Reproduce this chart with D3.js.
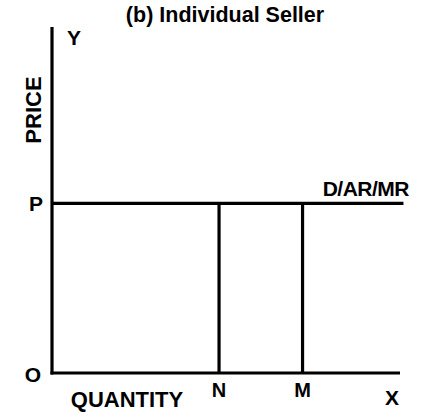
<!DOCTYPE html>
<html>
<head>
<meta charset="utf-8">
<script src="https://cdn.jsdelivr.net/npm/d3@7"></script>
<style>
  body { margin: 0; background: #fff; }
  text { font-family: "Liberation Sans", Arial, sans-serif; font-weight: bold; fill: #000; }
</style>
</head>
<body>
<div id="chart"></div>
<script>
// Chart values
const title = "(b) Individual Seller";
const priceLevel = 4.9;            // P
const priceLineEnd = 10.1;         // D/AR/MR runs slightly past the axis
const quantityNames = ["N", "M"];
const quantityValues = [4.8, 7.2];
const axisNames = ["X", "Y", "O"];
const curveLabel = "D/AR/MR";

const width = 423;
const height = 412;

const svg = d3.select("#chart").append("svg")
    .attr("width", width)
    .attr("height", height);

// Scales
const x = d3.scaleLinear().domain([0, 10]).range([52, 400]);
const y = d3.scaleLinear().domain([0, 10]).range([373, 27]);

// Title
svg.append("text")
    .attr("x", 225)
    .attr("y", 22)
    .attr("text-anchor", "middle")
    .style("font-size", "21.5px")
    .text(title);

// Axes
svg.append("line")
    .attr("x1", x(0)).attr("y1", y(0) + 1.5)
    .attr("x2", x(0)).attr("y2", y(10))
    .attr("stroke", "#000").attr("stroke-width", 3.2);

svg.append("line")
    .attr("x1", x(0) - 1.5).attr("y1", y(0))
    .attr("x2", x(10)).attr("y2", y(0))
    .attr("stroke", "#000").attr("stroke-width", 3.2);

// Price line D/AR/MR
svg.append("line")
    .attr("x1", x(0)).attr("y1", y(priceLevel))
    .attr("x2", x(priceLineEnd)).attr("y2", y(priceLevel))
    .attr("stroke", "#000").attr("stroke-width", 3.2);

// Quantity lines N and M
svg.selectAll(".qline")
    .data(quantityValues)
    .join("line")
    .attr("class", "qline")
    .attr("x1", d => x(d)).attr("y1", y(priceLevel))
    .attr("x2", d => x(d)).attr("y2", y(0))
    .attr("stroke", "#000").attr("stroke-width", 3.2);

svg.selectAll(".qlabel")
    .data(quantityNames)
    .join("text")
    .attr("class", "qlabel")
    .attr("x", (d, i) => x(quantityValues[i]))
    .attr("y", 397)
    .attr("text-anchor", "middle")
    .style("font-size", "20px")
    .text(d => d);

// Axis letters
svg.append("text").attr("x", 392).attr("y", 405)
    .attr("text-anchor", "middle").style("font-size", "21px").text(axisNames[0]);
svg.append("text").attr("x", 74).attr("y", 45)
    .attr("text-anchor", "middle").style("font-size", "21px").text(axisNames[1]);
svg.append("text").attr("x", 33).attr("y", 382)
    .attr("text-anchor", "middle").style("font-size", "21px").text(axisNames[2]);
svg.append("text").attr("x", 36).attr("y", y(priceLevel) + 8)
    .attr("text-anchor", "middle").style("font-size", "21px").text("P");

// Curve label
svg.append("text").attr("x", 409).attr("y", 196)
    .attr("text-anchor", "end").style("font-size", "21px")
    .style("letter-spacing", "-0.5px").text(curveLabel);

// Axis titles
svg.append("text")
    .attr("transform", "translate(41,110) rotate(-90)")
    .attr("text-anchor", "middle")
    .style("font-size", "22px")
    .text("PRICE");

svg.append("text").attr("x", 127).attr("y", 407)
    .attr("text-anchor", "middle").style("font-size", "22px").text("QUANTITY");
</script>
</body>
</html>
